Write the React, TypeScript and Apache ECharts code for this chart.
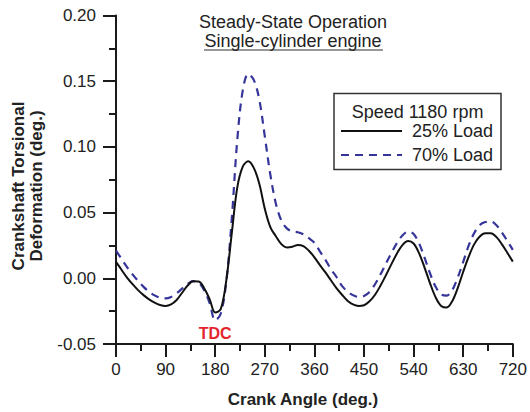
import React, { useEffect, useRef } from "react";
import * as echarts from "echarts";

const ANGLES = [
  0, 10, 20, 30, 40, 50, 60, 70, 80, 90, 100, 110, 120, 130, 140, 150, 160, 170, 180, 190,
  200, 210, 220, 230, 240, 250, 260, 270, 280, 290, 300, 310, 320, 330, 340, 350, 360, 370,
  380, 390, 400, 410, 420, 430, 440, 450, 460, 470, 480, 490, 500, 510, 520, 530, 540, 550,
  560, 570, 580, 590, 600, 610, 620, 630, 640, 650, 660, 670, 680, 690, 700, 710, 720,
];

const LOAD_25 = [
  0.0125, 0.0065, 0.0005, -0.0045, -0.009, -0.0128, -0.016, -0.0185, -0.0203, -0.021,
  -0.0198, -0.0165, -0.011, -0.0055, -0.0023, -0.0025, -0.0075, -0.016, -0.026, -0.0235,
  -0.002, 0.034, 0.069, 0.085, 0.089, 0.084, 0.072, 0.053, 0.039, 0.032,
  0.026, 0.0235, 0.024, 0.0254, 0.0245, 0.021, 0.016, 0.01, 0.0045, -0.0015,
  -0.0075, -0.0125, -0.017, -0.0198, -0.021, -0.0205, -0.0175, -0.0125, -0.0055, 0.0025,
  0.011, 0.019, 0.0255, 0.0284, 0.0265, 0.019, 0.008, -0.004, -0.0145, -0.021,
  -0.0222, -0.0175, -0.0075, 0.005, 0.0165, 0.026, 0.0318, 0.0342, 0.0342, 0.0315,
  0.026, 0.0195, 0.0127,
];

const LOAD_70 = [
  0.021, 0.0148, 0.0085, 0.003, -0.002, -0.0065, -0.0102, -0.013, -0.0148, -0.0153,
  -0.0142, -0.0115, -0.0078, -0.0042, -0.0022, -0.0035, -0.009, -0.019, -0.032, -0.027,
  -0.003, 0.045, 0.105, 0.143, 0.1555, 0.151, 0.136, 0.108, 0.079, 0.057,
  0.044, 0.038, 0.0357, 0.035, 0.0335, 0.0305, 0.027, 0.0205, 0.014, 0.007,
  0.001, -0.0058, -0.01, -0.0128, -0.0142, -0.0135, -0.0105, -0.0045, 0.003, 0.0115,
  0.0195, 0.027, 0.0328, 0.0355, 0.0338, 0.0265, 0.0155, 0.0035, -0.0065, -0.0122,
  -0.0132, -0.009, 0.0005, 0.0125, 0.025, 0.0345, 0.0405, 0.0428, 0.0432, 0.0405,
  0.035, 0.0285, 0.0216,
];

const SERIES_NAMES = ["25% Load", "70% Load"];
const TDC_ANGLE = 180;
const TDC_LEVEL = -0.0417;

const FONT = '"Liberation Sans", Arial, Helvetica, sans-serif';
const INK = "#1a1a1a";

export default function App() {
  const ref = useRef<HTMLDivElement>(null);

  useEffect(() => {
    const chart = echarts.init(ref.current as HTMLDivElement, null, { renderer: "svg" });
    const tickStyle = { color: INK, width: 2 };
    chart.setOption({
      animation: false,
      backgroundColor: "#ffffff",
      grid: { left: 116, right: 16, top: 15.5, bottom: 68 },
      xAxis: {
        type: "value",
        min: 0,
        max: 720,
        interval: 90,
        axisLine: { show: true, onZero: false, lineStyle: tickStyle },
        axisTick: { show: true, inside: false, length: 13, lineStyle: tickStyle },
        minorTick: { show: true, splitNumber: 2, length: 7, lineStyle: tickStyle },
        axisLabel: { fontSize: 17, color: "#222", margin: 17, fontFamily: FONT },
        splitLine: { show: false },
        minorSplitLine: { show: false },
      },
      yAxis: {
        type: "value",
        min: -0.05,
        max: 0.2,
        interval: 0.05,
        axisLine: { show: true, onZero: false, lineStyle: tickStyle },
        axisTick: { show: true, inside: false, length: 13, lineStyle: tickStyle },
        minorTick: { show: true, splitNumber: 2, length: 7, lineStyle: tickStyle },
        axisLabel: {
          fontSize: 17,
          color: "#222",
          margin: 20,
          fontFamily: FONT,
          formatter: (v: number) => v.toFixed(2),
        },
        splitLine: { show: false },
        minorSplitLine: { show: false },
      },
      legend: {
        data: SERIES_NAMES,
        orient: "vertical",
        left: 340,
        top: 122,
        padding: 0,
        itemWidth: 61,
        itemHeight: 14,
        itemGap: 6,
        itemStyle: { opacity: 0 },
        textStyle: { fontSize: 18, color: "#222", fontFamily: FONT, lineHeight: 18, padding: [0, 0, 0, 5] },
      },
      graphic: [
        {
          type: "rect",
          shape: { x: 334, y: 93.5, width: 167, height: 76 },
          style: { fill: "none", stroke: "#333", lineWidth: 1.5 },
        },
        {
          type: "text",
          x: 417.5,
          y: 112,
          style: {
            text: "Speed 1180 rpm",
            fontSize: 18,
            fontFamily: FONT,
            fill: "#222",
            align: "center",
            verticalAlign: "middle",
          },
        },
        {
          type: "text",
          x: 293,
          y: 22,
          style: {
            text: "Steady-State Operation",
            fontSize: 18,
            fontFamily: FONT,
            fill: "#222",
            align: "center",
            verticalAlign: "middle",
          },
        },
        {
          type: "text",
          x: 293,
          y: 41,
          style: {
            text: "Single-cylinder engine",
            fontSize: 18,
            fontFamily: FONT,
            fill: "#222",
            align: "center",
            verticalAlign: "middle",
          },
        },
        {
          type: "line",
          shape: { x1: 204, y1: 50, x2: 383, y2: 50 },
          style: { stroke: "#333", lineWidth: 1.2 },
        },
        {
          type: "text",
          x: 303,
          y: 399,
          style: {
            text: "Crank Angle (deg.)",
            fontSize: 17,
            fontWeight: "bold",
            fontFamily: FONT,
            fill: "#222",
            align: "center",
            verticalAlign: "middle",
          },
        },
        {
          type: "text",
          x: 27,
          y: 186,
          rotation: Math.PI / 2,
          style: {
            text: "Crankshaft Torsional\nDeformation (deg.)",
            fontSize: 17,
            fontWeight: "bold",
            fontFamily: FONT,
            fill: "#222",
            align: "center",
            verticalAlign: "middle",
            lineHeight: 18,
          },
        },
      ],
      series: [
        {
          name: SERIES_NAMES[0],
          type: "line",
          data: ANGLES.map((a, i) => [a, LOAD_25[i]]),
          smooth: 0.35,
          symbol: "none",
          lineStyle: { color: "#111", width: 2 },
          itemStyle: { color: "#111" },
          z: 3,
          markPoint: {
            silent: true,
            symbol: "circle",
            symbolSize: 0,
            data: [{ coord: [TDC_ANGLE, TDC_LEVEL] }],
            label: {
              show: true,
              position: "inside",
              formatter: "TDC",
              color: "#e3242b",
              fontWeight: "bold",
              fontSize: 16,
              fontFamily: FONT,
            },
          },
        },
        {
          name: SERIES_NAMES[1],
          type: "line",
          data: ANGLES.map((a, i) => [a, LOAD_70[i]]),
          smooth: 0.35,
          symbol: "none",
          lineStyle: { color: "#35359a", width: 2.2, type: [8, 6] },
          itemStyle: { color: "#35359a" },
          z: 2,
        },
      ],
    });
    return () => chart.dispose();
  }, []);

  return (
    <div
      ref={ref}
      style={{ position: "absolute", left: 0, top: 0, width: 530, height: 412 }}
    />
  );
}
